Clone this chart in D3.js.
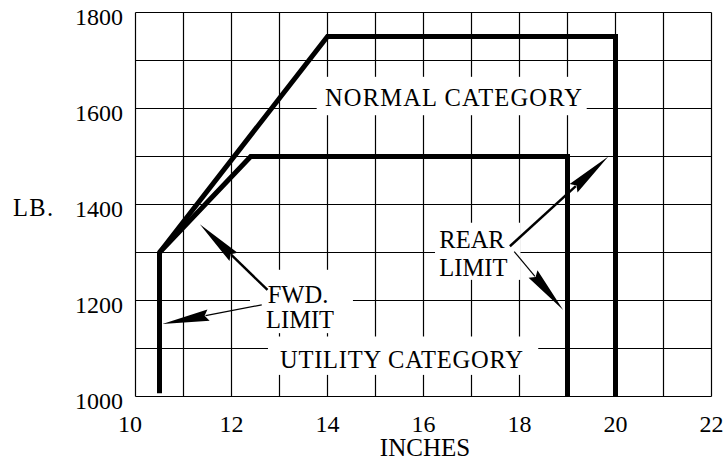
<!DOCTYPE html>
<html><head><meta charset="utf-8">
<script src="https://cdn.jsdelivr.net/npm/d3@7"></script>
<style>body{margin:0;background:#fff}text{font-family:"Liberation Serif","Times New Roman",serif;fill:#000}</style>
</head><body>
<svg id="c" width="727" height="466"></svg>
<script>
const xTicks = [10, 12, 14, 16, 18, 20, 22];
const yTicks = [1000, 1200, 1400, 1600, 1800];
const xGrid = d3.range(10, 23, 1);
const yGrid = d3.range(1000, 1801, 100);
const normalX = [10.5, 10.5, 14, 20, 20];
const normalY = [1007, 1300, 1750, 1750, 1000];
const utilityX = [10.5, 12.4, 19, 19];
const utilityY = [1300, 1500, 1500, 1000];
// arrows: tail (x,y) -> tip (x,y)
const arrowTailX = [12.75, 12.63, 17.80, 17.89];
const arrowTailY = [1222, 1191, 1313, 1302];
const arrowTipX = [11.34, 10.56, 19.85, 18.91];
const arrowTipY = [1359, 1151, 1500, 1180];
const arrowWidth = [2.4, 1.2, 2.4, 1.2];
const labels = ["NORMAL CATEGORY", "UTILITY CATEGORY", "FWD.", "LIMIT", "REAR", "LIMIT"];
const labelX = [16.625, 15.54, 12.754, 12.72, 16.33, 16.33];
const labelY = [1605, 1059, 1195, 1142, 1309, 1252];
const labelLen = [257, 243, 0, 0, 0, 0];

const svg = d3.select("#c");
const x = d3.scaleLinear().domain([10, 22]).range([135.5, 711.5]);
const y = d3.scaleLinear().domain([1000, 1800]).range([396.5, 12.5]);

// grid
svg.append("g").selectAll("line").data(xGrid).join("line")
  .attr("x1", d => x(d)).attr("x2", d => x(d)).attr("y1", y(1000)).attr("y2", y(1800))
  .attr("stroke", "#000").attr("stroke-width", 1.2);
svg.append("g").selectAll("line").data(yGrid).join("line")
  .attr("y1", d => y(d)).attr("y2", d => y(d)).attr("x1", x(10)).attr("x2", x(22))
  .attr("stroke", "#000").attr("stroke-width", 1.2);

// white boxes behind labels
const boxes = [
  {x0: 13.775, x1: 19.4, y0: 1666, y1: 1586},
  {x0: 12.76, x1: 18.39, y0: 1125, y1: 1045},
  {x0: 12.385, x1: 14.53, y0: 1264, y1: 1132},
  {x0: 16.24, x1: 18.02, y0: 1362, y1: 1243}
];
svg.append("g").selectAll("rect").data(boxes).join("rect")
  .attr("x", d => x(d.x0)).attr("y", d => y(d.y0))
  .attr("width", d => x(d.x1) - x(d.x0)).attr("height", d => y(d.y1) - y(d.y0))
  .attr("fill", "#fff");

// envelopes
const line = d3.line().x(d => x(d[0])).y(d => y(d[1]));
svg.append("path").datum(normalX.map((v, i) => [v, normalY[i]])).attr("d", line)
  .attr("fill", "none").attr("stroke", "#000").attr("stroke-width", 5).attr("stroke-linejoin", "miter");
svg.append("path").datum(utilityX.map((v, i) => [v, utilityY[i]])).attr("d", line)
  .attr("fill", "none").attr("stroke", "#000").attr("stroke-width", 5).attr("stroke-linejoin", "miter");

// arrows
const ag = svg.append("g");
arrowTailX.forEach((tx, i) => {
  const x0 = x(tx), y0 = y(arrowTailY[i]), x1 = x(arrowTipX[i]), y1 = y(arrowTipY[i]);
  const dx = x1 - x0, dy = y1 - y0, L = Math.hypot(dx, dy), ux = dx / L, uy = dy / L;
  const hl = 47, hw = 5.8;
  const bx = x1 - ux * hl, by = y1 - uy * hl;
  ag.append("line").attr("x1", x0).attr("y1", y0).attr("x2", bx + ux * 3).attr("y2", by + uy * 3)
    .attr("stroke", "#000").attr("stroke-width", arrowWidth[i]);
  const nx = bx + ux * 4, ny = by + uy * 4;
  ag.append("path").attr("d", `M${x1},${y1}L${bx - uy * hw},${by + ux * hw}L${nx},${ny}L${bx + uy * hw},${by - ux * hw}Z`)
    .attr("fill", "#000");
});

// labels
svg.append("g").selectAll("text").data(labels).join("text")
  .attr("x", (d, i) => x(labelX[i])).attr("y", (d, i) => y(labelY[i]))
  .attr("text-anchor", (d, i) => i < 2 ? "middle" : "start")
  .attr("font-size", 24.5)
  .each(function(d, i) { if (labelLen[i]) d3.select(this).attr("textLength", labelLen[i]).attr("lengthAdjust", "spacing"); })
  .text(d => d);

// tick labels
svg.append("g").selectAll("text").data(xTicks).join("text")
  .attr("x", d => x(d)).attr("dx", (d, i) => i === 0 ? -5.5 : 0).attr("y", 432).attr("text-anchor", "middle")
  .attr("font-size", 24).text(d => d);
svg.append("g").selectAll("text").data(yTicks).join("text")
  .attr("x", 123).attr("y", d => y(d) + 12).attr("text-anchor", "end")
  .attr("font-size", 24).text(d => d);
svg.append("text").attr("x", 425).attr("y", 456).attr("text-anchor", "middle").attr("font-size", 25).text("INCHES");
svg.append("text").attr("x", 13).attr("y", 216).attr("font-size", 24.5)
  .attr("textLength", 40).attr("lengthAdjust", "spacing").text("LB.");
</script>
</body></html>
